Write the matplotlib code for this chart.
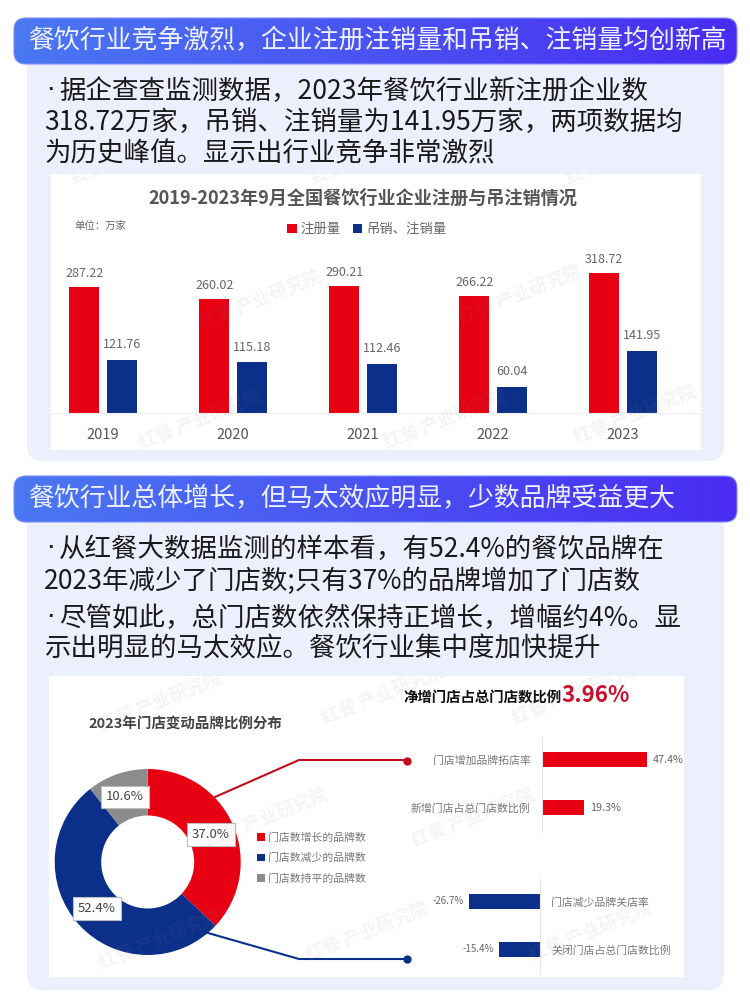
import numpy as np
import matplotlib
matplotlib.use("Agg")
import matplotlib.pyplot as plt
from matplotlib.patches import FancyBboxPatch, Rectangle
from matplotlib.colors import LinearSegmentedColormap

plt.rcParams['font.family'] = ['Noto Sans CJK SC', 'DejaVu Sans']

W, H = 750, 1000

# chart data
years = ['2019', '2020', '2021', '2022', '2023']
registered = [287.22, 260.02, 290.21, 266.22, 318.72]
cancelled = [121.76, 115.18, 112.46, 60.04, 141.95]

share_labels = ['门店数增长的品牌数', '门店数减少的品牌数', '门店数持平的品牌数']
share_values = [37.0, 52.4, 10.6]

up_labels = ['门店增加品牌拓店率', '新增门店占总门店数比例']
up_values = [47.4, 19.3]
down_labels = ['门店减少品牌关店率', '关闭门店占总门店数比例']
down_values = [-26.7, -15.4]

# text
header1 = '餐饮行业竞争激烈，企业注册注销量和吊销、注销量均创新高'
body1 = ['·据企查查监测数据，2023年餐饮行业新注册企业数',
         '318.72万家，吊销、注销量为141.95万家，两项数据均',
         '为历史峰值。显示出行业竞争非常激烈']
header2 = '餐饮行业总体增长，但马太效应明显，少数品牌受益更大'
body2 = ['·从红餐大数据监测的样本看，有52.4%的餐饮品牌在',
         '2023年减少了门店数;只有37%的品牌增加了门店数',
         '·尽管如此，总门店数依然保持正增长，增幅约4%。显',
         '示出明显的马太效应。餐饮行业集中度加快提升']

RED = '#e60012'
BLUE = '#0c2f8a'
GREY = '#8c8c8c'
PANEL = '#eceffc'


def px_axes(x0, y0, x1, y1, **kw):
    return fig.add_axes([x0 / W, 1 - y1 / H, (x1 - x0) / W, (y1 - y0) / H], **kw)


def body_line(y, line):
    # the bullet sits tight against the first character in the reference
    if line.startswith('·'):
        bg.text(46, y, '·', fontsize=19, color='#1a1a1a', va='center', zorder=5,
                family='DejaVu Sans')
        bg.text(59, y, line[1:], fontsize=19.05, color='#1a1a1a', va='center', zorder=5)
    else:
        bg.text(44, y, line, fontsize=19.05, color='#1a1a1a', va='center', zorder=5)


fig = plt.figure(figsize=(7.5, 10), dpi=100, facecolor='white')

# page background, y goes down in pixels
bg = px_axes(0, 0, W, H)
bg.set_xlim(0, W)
bg.set_ylim(H, 0)
bg.axis('off')

grad = LinearSegmentedColormap.from_list('head', ['#4a78f2', '#4a2cf2'])
ramp = np.linspace(0, 1, 256).reshape(1, -1)

for top, bottom in [(40, 461), (498, 990)]:
    bg.add_patch(FancyBboxPatch((27, top), 697, bottom - top,
                                boxstyle='round,pad=0,rounding_size=16',
                                fc=PANEL, ec='none', zorder=1))

for top, title in [(18, header1), (476, header2)]:
    box = FancyBboxPatch((14, top), 723, 46, boxstyle='round,pad=0,rounding_size=12',
                         fc='none', ec='#7d8ff5', lw=0.8, zorder=4)
    bg.add_patch(box)
    im = bg.imshow(ramp, cmap=grad, extent=(14, 737, top + 46, top), aspect='auto', zorder=3)
    im.set_clip_path(box)
    bg.text(28, top + 23, title, color='#eef1ff', fontsize=18.65, va='center', zorder=5)

bg.set_xlim(0, W)
bg.set_ylim(H, 0)

for y, line in zip([91, 122, 154], body1):
    body_line(y, line)
for y, line in zip([549, 581, 618, 649], body2):
    body_line(y, line)

card1 = Rectangle((51, 174), 650, 276, fc='white', ec='none', zorder=2)
card2 = Rectangle((49, 676), 635, 301, fc='white', ec='none', zorder=2)
bg.add_patch(card1)
bg.add_patch(card2)

# top chart
ax1 = px_axes(51, 174, 701, 450)
ax1.patch.set_alpha(0)
pos = np.arange(len(years))
bw = 30 / 130
off = 18.75 / 130
bars_a = ax1.bar(pos - off, registered, bw, color=RED, label='注册量')
bars_b = ax1.bar(pos + off, cancelled, bw, color=BLUE, label='吊销、注销量')
ax1.bar_label(bars_a, fmt='%.2f', padding=5, fontsize=9, color='#666666')
ax1.bar_label(bars_b, fmt='%.2f', padding=6, fontsize=9, color='#666666')
ax1.set_xlim(-0.4, 4.6)
ax1.set_ylim(-84.3, 544.8)
ax1.set_yticks([])
ax1.set_xticks(pos, years)
ax1.tick_params(axis='x', length=0, pad=10.5, labelsize=10.5, labelcolor='#555555')
for s in ['top', 'left', 'right']:
    ax1.spines[s].set_visible(False)
ax1.spines['bottom'].set_position(('data', 0))
ax1.spines['bottom'].set_color('#eeeeee')
ax1.legend(loc='center', bbox_to_anchor=(0.486, 0.8), ncol=2, frameon=False,
           fontsize=9.6, labelcolor='#666666', handlelength=0.7, handleheight=0.7,
           handletextpad=0.3, columnspacing=0.9)
bg.text(363, 198, '2019-2023年9月全国餐饮行业企业注册与吊注销情况', fontsize=13.1,
        fontweight='bold', color='#555555', ha='center', va='center', zorder=5)
bg.text(74, 226, '单位：万家', fontsize=7.5, color='#666666', va='center', zorder=5)

# connector lines behind the donut
bg.plot([215, 299, 407], [797, 760, 760], color='#c00d1e', lw=1.5, zorder=3)
bg.plot([407], [760.5], 'o', color='#c00d1e', ms=5, zorder=3)
bg.plot([208, 299, 407], [933, 959, 959], color=BLUE, lw=1.5, zorder=3)
bg.plot([407], [959], 'o', color=BLUE, ms=5, zorder=3)

bg.text(88, 724, '2023年门店变动品牌比例分布', fontsize=10.45, fontweight='bold',
        color='#444444', va='center', zorder=5)
bg.text(403, 698, '净增门店占总门店数比例', fontsize=10.4, fontweight='bold',
        color='#111111', va='center', zorder=5)
bg.text(561, 696, '3.96%', fontsize=16, fontweight='bold', color='#c8102e',
        va='center', zorder=5)

# donut
cx, cy, r = 147.7, 862, 93
ax2 = px_axes(cx - r * 1.1, cy - r * 1.1, cx + r * 1.1, cy + r * 1.1)
wedges, _, autotexts = ax2.pie(share_values, colors=[RED, BLUE, GREY], startangle=90,
                               counterclock=False, autopct='%.1f%%', pctdistance=0.74,
                               wedgeprops={'width': 0.5},
                               textprops={'fontsize': 9.5, 'color': '#444444'})
for t in autotexts:
    t.set_bbox({'fc': 'white', 'ec': '#bbbbbb', 'lw': 0.8, 'pad': 3.5})
ax2.set_xlim(-1.1, 1.1)
ax2.set_ylim(-1.1, 1.1)
fig.legend(wedges, share_labels, loc='center left',
           bbox_to_anchor=(247 / W, 1 - 858 / H), frameon=False, fontsize=7.8,
           labelcolor='#777777', handlelength=0.75, handleheight=0.75,
           handletextpad=0.3, labelspacing=0.9)

# upper bars
ax3 = px_axes(541.7, 737, 684, 832)
ax3.patch.set_alpha(0)
b3 = ax3.barh([0, 1], up_values, 0.3, color=RED)
ax3.bar_label(b3, fmt='%.1f%%', padding=4, fontsize=7.8, color='#666666')
ax3.set_xlim(0, 64.2)
ax3.set_ylim(1.51, -0.47)
ax3.set_xticks([])
ax3.set_yticks([0, 1], up_labels)
ax3.tick_params(axis='y', length=0, pad=8, labelsize=7.8, labelcolor='#777777')

# lower bars
ax4 = px_axes(440, 877, 540.3, 973)
ax4.patch.set_alpha(0)
b4 = ax4.barh([0, 1], down_values, 0.3, color=BLUE)
ax4.bar_label(b4, fmt='%.1f%%', padding=4, fontsize=7, color='#666666')
ax4.set_xlim(-37.6, 0)
ax4.set_ylim(1.49, -0.51)
ax4.set_xticks([])
ax4.set_yticks([0, 1], down_labels)
ax4.yaxis.tick_right()
ax4.tick_params(axis='y', length=0, pad=8, labelsize=7.8, labelcolor='#777777')

for a, keep in [(ax3, 'left'), (ax4, 'right')]:
    for s in a.spines:
        a.spines[s].set_visible(s == keep)
    a.spines[keep].set_color('#e6e6e6')

# watermarks on top of everything
over = px_axes(0, 0, W, H)
over.set_xlim(0, W)
over.set_ylim(H, 0)
over.axis('off')
over.set_zorder(10)
marks1 = [(72, 180), (312, 180), (567, 180), (200, 325), (460, 320),
          (140, 445), (385, 445), (575, 440)]
marks2 = [(100, 727), (323, 720), (513, 720), (207, 843), (413, 843),
          (100, 965), (307, 957), (530, 957)]
for marks, card in [(marks1, card1), (marks2, card2)]:
    for x, y in marks:
        t = over.text(x, y, '红餐 产业研究院', fontsize=13, color='#888888', alpha=0.09,
                      rotation=22, ha='left', va='center', fontweight='bold',
                      rotation_mode='anchor')
        t.set_clip_on(True)
        t.set_clip_path(card)

fig.savefig('out.png', dpi=100)
